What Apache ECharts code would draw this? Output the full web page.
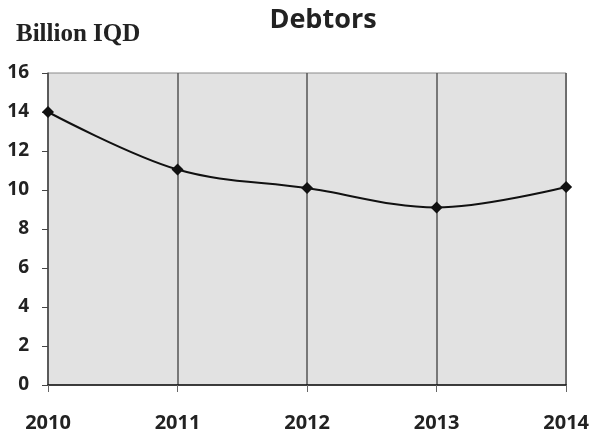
<!DOCTYPE html>
<html><head><meta charset="utf-8">
<script src="https://cdn.jsdelivr.net/npm/echarts@6/dist/echarts.min.js"></script>
<style>html,body{margin:0;padding:0;background:#fff}#c{width:592px;height:438px}</style>
</head><body><div id="c"></div>
<script>
const years = ['2010','2011','2012','2013','2014'];
const debtors = [14, 11.05, 10.1, 9.1, 10.15];
const yTicks = {min:0, max:16, interval:2};

const chart = echarts.init(document.getElementById('c'), null, {renderer:'canvas'});
chart.setOption({
  backgroundColor:'#fff',
  animation:false,
  title:[
    {text:'Debtors', left:318, top:2, textAlign:'center',
     textStyle:{fontFamily:'Open Sans', fontWeight:'bold', fontSize:27, color:'#222'}},
    {text:'Billion IQD', left:11, top:17,
     textStyle:{fontFamily:'Liberation Serif', fontWeight:'bold', fontSize:25, color:'#222'}}
  ],
  grid:{left:48, right:22, top:73, bottom:53, show:true, backgroundColor:'#e2e2e2', borderColor:'#8a8a8a', borderWidth:1},
  xAxis:{type:'category', data:years, boundaryGap:false,
    axisLine:{lineStyle:{color:'#111', width:1.5}},
    axisTick:{show:true, length:7, lineStyle:{color:'#666'}},
    axisLabel:{margin:28, fontFamily:'Open Sans', fontWeight:'bold', fontSize:20, color:'#222'},
    splitLine:{show:true, lineStyle:{color:'#555', width:1.5}}},
  yAxis:{type:'value', min:yTicks.min, max:yTicks.max, interval:yTicks.interval,
    axisLine:{show:true, lineStyle:{color:'#555', width:1.5}},
    axisTick:{show:true, length:6, lineStyle:{color:'#444'}},
    axisLabel:{margin:19, fontFamily:'Open Sans', fontWeight:'bold', fontSize:19, color:'#222'},
    splitLine:{show:false}},
  series:[{type:'line', data:debtors, smooth:0.35, symbol:'diamond', symbolSize:12,
    itemStyle:{color:'#111'}, lineStyle:{color:'#111', width:2}}]
});
</script></body></html>
